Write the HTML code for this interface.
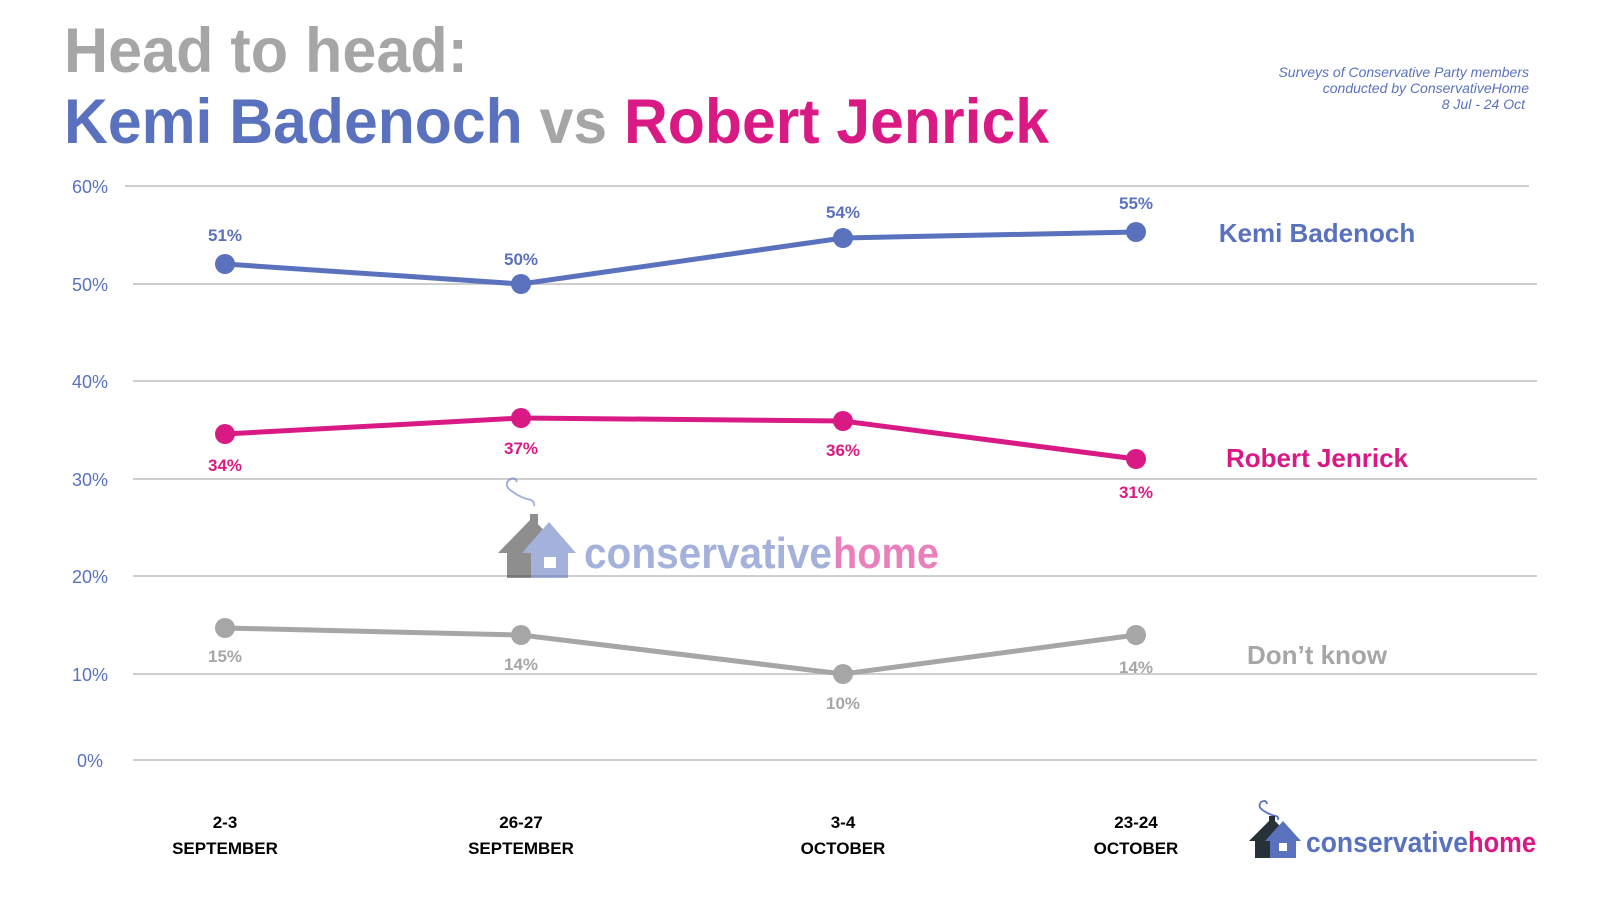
<!DOCTYPE html>
<html><head><meta charset="utf-8"><style>
html,body{margin:0;padding:0;background:#fff;}
svg{display:block;font-family:"Liberation Sans",sans-serif;}
</style></head><body>
<svg width="1600" height="900" viewBox="0 0 1600 900" xmlns="http://www.w3.org/2000/svg">
<rect width="1600" height="900" fill="#fff"/>
<text x="64" y="72" font-size="63" font-weight="bold" fill="#a6a6a6" textLength="404" lengthAdjust="spacingAndGlyphs">Head to head:</text>
<text x="64" y="143" font-size="63" font-weight="bold" textLength="985" lengthAdjust="spacingAndGlyphs"><tspan fill="#5a72be">Kemi Badenoch</tspan><tspan fill="#a6a6a6"> vs </tspan><tspan fill="#d91a85">Robert Jenrick</tspan></text>
<g font-size="14" font-style="italic" fill="#5a72be" text-anchor="end">
<text x="1529" y="77">Surveys of Conservative Party members</text>
<text x="1529" y="93">conducted by ConservativeHome</text>
<text x="1525" y="109">8 Jul - 24 Oct</text>
</g>
<g stroke="#bdbdbd" stroke-width="1.5">
<line x1="125" y1="186" x2="1529" y2="186"/>
<line x1="133" y1="284" x2="1537" y2="284"/>
<line x1="133" y1="381" x2="1537" y2="381"/>
<line x1="133" y1="479" x2="1537" y2="479"/>
<line x1="133" y1="576" x2="1537" y2="576"/>
<line x1="133" y1="674" x2="1537" y2="674"/>
<line x1="133" y1="760" x2="1537" y2="760"/>
</g>
<g font-size="18" fill="#5a72be" text-anchor="end">
<text x="108" y="193">60%</text><text x="108" y="291">50%</text><text x="108" y="388">40%</text>
<text x="108" y="486">30%</text><text x="108" y="583">20%</text><text x="108" y="681">10%</text><text x="103" y="767">0%</text>
</g>
<g opacity="0.55">
<path d="M513 492 q-10 -6 -4 -12 q6 -4 8 2 M513 492 q8 6 18 8 q4 2 3 6" stroke="#5a72be" stroke-width="2" fill="none"/>
<polygon points="498,553 532,518 566,553" fill="#333"/>
<rect x="530" y="514" width="8" height="12" fill="#333"/>
<rect x="507" y="550" width="30" height="28" fill="#333"/>
<polygon points="522,553 549,522 576,553" fill="#5a72be"/>
<rect x="531" y="550" width="37" height="28" fill="#5a72be"/>
<rect x="544" y="557" width="12" height="11" fill="#fff"/>
<text x="584" y="568" font-size="44" font-weight="bold" fill="#5a72be" textLength="248" lengthAdjust="spacingAndGlyphs">conservative</text>
<text x="833" y="568" font-size="44" font-weight="bold" fill="#d91a85" textLength="106" lengthAdjust="spacingAndGlyphs">home</text>
</g>
<polyline points="225,264 521,284 843,238 1136,232" fill="none" stroke="#5a72be" stroke-width="5"/>
<polyline points="225,434 521,418 843,421 1136,459" fill="none" stroke="#d91a85" stroke-width="5"/>
<polyline points="225,628 521,635 843,674 1136,635" fill="none" stroke="#a6a6a6" stroke-width="5"/>
<g fill="#5a72be"><circle cx="225" cy="264" r="10"/><circle cx="521" cy="284" r="10"/><circle cx="843" cy="238" r="10"/><circle cx="1136" cy="232" r="10"/></g>
<g fill="#d91a85"><circle cx="225" cy="434" r="10"/><circle cx="521" cy="418" r="10"/><circle cx="843" cy="421" r="10"/><circle cx="1136" cy="459" r="10"/></g>
<g fill="#a6a6a6"><circle cx="225" cy="628" r="10"/><circle cx="521" cy="635" r="10"/><circle cx="843" cy="674" r="10"/><circle cx="1136" cy="635" r="10"/></g>
<g font-size="17" font-weight="bold" text-anchor="middle">
<g fill="#5a72be"><text x="225" y="241">51%</text><text x="521" y="265">50%</text><text x="843" y="218">54%</text><text x="1136" y="209">55%</text></g>
<g fill="#d91a85"><text x="225" y="471">34%</text><text x="521" y="454">37%</text><text x="843" y="456">36%</text><text x="1136" y="498">31%</text></g>
<g fill="#a6a6a6"><text x="225" y="662">15%</text><text x="521" y="670">14%</text><text x="843" y="709">10%</text><text x="1136" y="673">14%</text></g>
</g>
<g font-size="26" font-weight="bold" text-anchor="middle">
<text x="1317" y="242" fill="#5a72be">Kemi Badenoch</text>
<text x="1317" y="467" fill="#d91a85">Robert Jenrick</text>
<text x="1317" y="664" fill="#a6a6a6">Don’t know</text>
</g>
<g font-size="17" font-weight="bold" fill="#000" text-anchor="middle">
<text x="225" y="828">2-3</text><text x="225" y="854">SEPTEMBER</text>
<text x="521" y="828">26-27</text><text x="521" y="854">SEPTEMBER</text>
<text x="843" y="828">3-4</text><text x="843" y="854">OCTOBER</text>
<text x="1136" y="828">23-24</text><text x="1136" y="854">OCTOBER</text>
</g>
<g>
<path d="M1264 811 q-7 -4 -3 -9 q5 -3 6 2 M1264 811 q6 4 12 5 q3 1 2 4" stroke="#5a72be" stroke-width="1.8" fill="none"/>
<polygon points="1249,841 1272,818 1295,841" fill="#263238"/>
<rect x="1269" y="816" width="6" height="8" fill="#263238"/>
<rect x="1255" y="839" width="20" height="19" fill="#263238"/>
<polygon points="1265,841 1283,821 1301,841" fill="#5a72be"/>
<rect x="1270" y="839" width="26" height="19" fill="#5a72be"/>
<rect x="1279" y="843" width="8" height="8" fill="#fff"/>
<text x="1306" y="852" font-size="29" font-weight="bold" fill="#5a72be" textLength="162" lengthAdjust="spacingAndGlyphs">conservative</text>
<text x="1468" y="852" font-size="29" font-weight="bold" fill="#d91a85" textLength="68" lengthAdjust="spacingAndGlyphs">home</text>
</g>
</svg>
</body></html>
